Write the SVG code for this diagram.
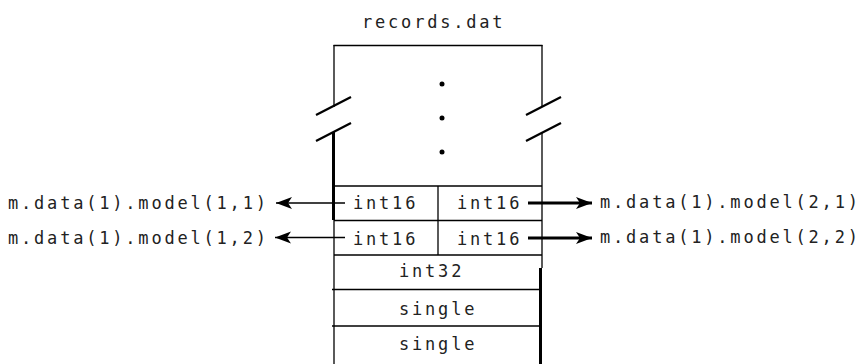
<svg xmlns="http://www.w3.org/2000/svg" width="861" height="364" viewBox="0 0 861 364">
<defs>
<style>
text{font-family:"DejaVu Sans Mono","Liberation Mono",monospace;font-size:17px;letter-spacing:2.8px;fill:#222}
.thin{stroke:#000;stroke-width:1.3;fill:none}
.thick{stroke:#000;stroke-width:3;fill:none}
.slash{stroke:#000;stroke-width:2.3;fill:none}
</style>
<marker id="ah" viewBox="0 -7 17 14" refX="16" refY="0" markerWidth="17" markerHeight="14" markerUnits="userSpaceOnUse" orient="auto">
<path d="M0,-6 L16,0 L0,6 L4,0 z" fill="#000"/>
</marker>
</defs>
<rect width="861" height="364" fill="#fff"/>
<g id="title"><text x="362" y="28">records.dat</text></g>
<g id="file-frame">
<line class="thin" x1="333.5" y1="45.5" x2="542.5" y2="45.5"/>
<line class="thin" x1="334" y1="45" x2="334" y2="107"/>
<line class="thin" x1="542" y1="45" x2="542" y2="107"/>
<line class="slash" x1="316" y1="115" x2="351" y2="97"/>
<line class="slash" x1="316" y1="141" x2="351" y2="123"/>
<line class="slash" x1="526" y1="115" x2="561" y2="97"/>
<line class="slash" x1="526" y1="141" x2="561" y2="123"/>
<line class="thick" x1="333.5" y1="132" x2="333.5" y2="220"/>
<line class="thin" x1="334" y1="220" x2="334" y2="364"/>
<line class="thin" x1="542" y1="133" x2="542" y2="268"/>
<line class="thick" x1="540.5" y1="268" x2="540.5" y2="364"/>
<circle cx="442" cy="84" r="2.5"/>
<circle cx="442" cy="118" r="2.5"/>
<circle cx="442" cy="152" r="2.5"/>
</g>
<g id="rows">
<line class="thin" x1="334" y1="186" x2="542" y2="186"/>
<line class="thin" x1="334" y1="220.5" x2="542" y2="220.5"/>
<line class="thin" x1="334" y1="255" x2="542" y2="255"/>
<line class="thin" x1="332" y1="289.5" x2="542" y2="289.5"/>
<line class="thin" x1="332" y1="326" x2="542" y2="326"/>
<line class="thin" x1="438" y1="186" x2="438" y2="255"/>
</g>
<g id="cell-r1-left"><text x="353" y="208.5">int16</text></g>
<g id="cell-r1-right"><text x="457" y="208.5">int16</text></g>
<g id="cell-r2-left"><text x="353" y="245">int16</text></g>
<g id="cell-r2-right"><text x="457" y="245">int16</text></g>
<g id="cell-int32"><text x="399" y="277">int32</text></g>
<g id="cell-single-1"><text x="399" y="315">single</text></g>
<g id="cell-single-2"><text x="399" y="350">single</text></g>
<g id="label-11"><text x="8" y="209">m.data(1).model(1,1)</text></g>
<g id="label-12"><text x="8" y="244">m.data(1).model(1,2)</text></g>
<g id="label-21"><text x="600" y="208">m.data(1).model(2,1)</text></g>
<g id="label-22"><text x="600" y="243">m.data(1).model(2,2)</text></g>
<g id="connectors">
<line class="thin" x1="345" y1="203" x2="276" y2="203" marker-end="url(#ah)"/>
<line class="thin" x1="345" y1="237.5" x2="275" y2="237.5" marker-end="url(#ah)"/>
<line class="thick" x1="528" y1="203" x2="592" y2="203" marker-end="url(#ah)"/>
<line class="thick" x1="528" y1="238" x2="592" y2="238" marker-end="url(#ah)"/>
</g>
</svg>
